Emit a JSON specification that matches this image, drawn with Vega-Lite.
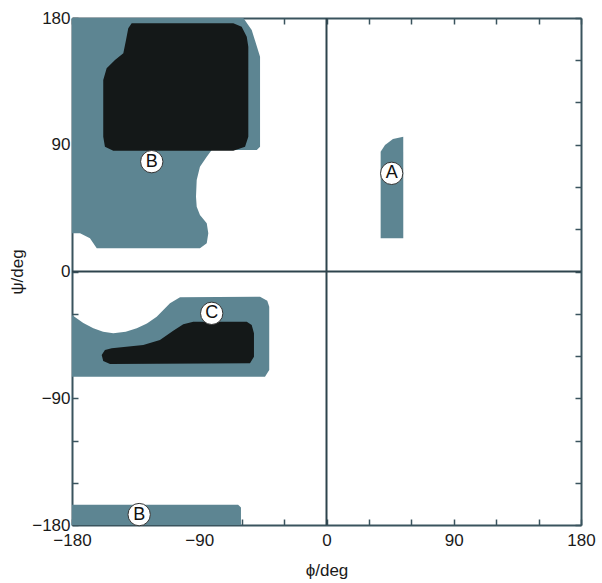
{
  "$schema": "https://vega.github.io/schema/vega-lite/v6.json",
  "width": 509,
  "height": 507,
  "autosize": "none",
  "padding": {"left": 72, "top": 18, "right": 21, "bottom": 58},
  "background": "white",
  "config": {
    "view": {"stroke": null},
    "axis": {
      "grid": false,
      "domainColor": "#3a545e",
      "domainWidth": 2,
      "tickColor": "#3a545e",
      "tickWidth": 1.5,
      "tickSize": -6,
      "labelFont": "Liberation Sans",
      "labelFontSize": 17,
      "labelColor": "#1a1a1a",
      "labelFlush": false,
      "labelPadding": 8,
      "titleFont": "Liberation Sans",
      "titleFontSize": 17,
      "titleFontWeight": "normal",
      "titleColor": "#1a1a1a",
      "zindex": 1
    }
  },
  "datasets": {
    "poly": [
      {"shape": "LB1", "kind": "light", "i": 0, "phi": -180, "psi": 180},
      {"shape": "LB1", "kind": "light", "i": 1, "phi": -58.8, "psi": 180},
      {"shape": "LB1", "kind": "light", "i": 2, "phi": -52.9, "psi": 171.5},
      {"shape": "LB1", "kind": "light", "i": 3, "phi": -47.0, "psi": 152.5},
      {"shape": "LB1", "kind": "light", "i": 4, "phi": -47.0, "psi": 88.6},
      {"shape": "LB1", "kind": "light", "i": 5, "phi": -49.3, "psi": 86.3},
      {"shape": "LB1", "kind": "light", "i": 6, "phi": -81.2, "psi": 86.3},
      {"shape": "LB1", "kind": "light", "i": 7, "phi": -84.7, "psi": 81.5},
      {"shape": "LB1", "kind": "light", "i": 8, "phi": -89.5, "psi": 74.4},
      {"shape": "LB1", "kind": "light", "i": 9, "phi": -91.8, "psi": 65.0},
      {"shape": "LB1", "kind": "light", "i": 10, "phi": -92.3, "psi": 53.1},
      {"shape": "LB1", "kind": "light", "i": 11, "phi": -91.8, "psi": 46.0},
      {"shape": "LB1", "kind": "light", "i": 12, "phi": -89.5, "psi": 40.1},
      {"shape": "LB1", "kind": "light", "i": 13, "phi": -84.7, "psi": 34.3},
      {"shape": "LB1", "kind": "light", "i": 14, "phi": -83.6, "psi": 27.1},
      {"shape": "LB1", "kind": "light", "i": 15, "phi": -84.7, "psi": 20.0},
      {"shape": "LB1", "kind": "light", "i": 16, "phi": -89.5, "psi": 16.5},
      {"shape": "LB1", "kind": "light", "i": 17, "phi": -162.5, "psi": 16.5},
      {"shape": "LB1", "kind": "light", "i": 18, "phi": -167.3, "psi": 23.6},
      {"shape": "LB1", "kind": "light", "i": 19, "phi": -174.3, "psi": 27.1},
      {"shape": "LB1", "kind": "light", "i": 20, "phi": -180, "psi": 27.1},

      {"shape": "LC", "kind": "light", "i": 0, "phi": -180, "psi": -30.9},
      {"shape": "LC", "kind": "light", "i": 1, "phi": -172, "psi": -36.5},
      {"shape": "LC", "kind": "light", "i": 2, "phi": -164.9, "psi": -40.3},
      {"shape": "LC", "kind": "light", "i": 3, "phi": -158, "psi": -42.8},
      {"shape": "LC", "kind": "light", "i": 4, "phi": -150.8, "psi": -43.9},
      {"shape": "LC", "kind": "light", "i": 5, "phi": -142, "psi": -42.8},
      {"shape": "LC", "kind": "light", "i": 6, "phi": -134.2, "psi": -40.3},
      {"shape": "LC", "kind": "light", "i": 7, "phi": -127, "psi": -37},
      {"shape": "LC", "kind": "light", "i": 8, "phi": -120.1, "psi": -32.1},
      {"shape": "LC", "kind": "light", "i": 9, "phi": -110.7, "psi": -22.6},
      {"shape": "LC", "kind": "light", "i": 10, "phi": -103.6, "psi": -18.3},
      {"shape": "LC", "kind": "light", "i": 11, "phi": -47.0, "psi": -17.9},
      {"shape": "LC", "kind": "light", "i": 12, "phi": -41.9, "psi": -20.7},
      {"shape": "LC", "kind": "light", "i": 13, "phi": -40.5, "psi": -25.0},
      {"shape": "LC", "kind": "light", "i": 14, "phi": -40.5, "psi": -69.9},
      {"shape": "LC", "kind": "light", "i": 15, "phi": -43.5, "psi": -74.7},
      {"shape": "LC", "kind": "light", "i": 16, "phi": -180, "psi": -74.7},

      {"shape": "LA", "kind": "light", "i": 0, "phi": 38.3, "psi": 23.6},
      {"shape": "LA", "kind": "light", "i": 1, "phi": 38.3, "psi": 85.1},
      {"shape": "LA", "kind": "light", "i": 2, "phi": 41.4, "psi": 89.8},
      {"shape": "LA", "kind": "light", "i": 3, "phi": 47.0, "psi": 94.1},
      {"shape": "LA", "kind": "light", "i": 4, "phi": 54.3, "psi": 95.7},
      {"shape": "LA", "kind": "light", "i": 5, "phi": 54.3, "psi": 23.6},

      {"shape": "LB2", "kind": "light", "i": 0, "phi": -180, "psi": -180},
      {"shape": "LB2", "kind": "light", "i": 1, "phi": -180, "psi": -165.6},
      {"shape": "LB2", "kind": "light", "i": 2, "phi": -62.5, "psi": -165.6},
      {"shape": "LB2", "kind": "light", "i": 3, "phi": -60.5, "psi": -167.5},
      {"shape": "LB2", "kind": "light", "i": 4, "phi": -60.5, "psi": -180},

      {"shape": "DB", "kind": "dark", "i": 0, "phi": -137.8, "psi": 176.2},
      {"shape": "DB", "kind": "dark", "i": 1, "phi": -65.9, "psi": 176.2},
      {"shape": "DB", "kind": "dark", "i": 2, "phi": -60.0, "psi": 173.8},
      {"shape": "DB", "kind": "dark", "i": 3, "phi": -56.4, "psi": 166.7},
      {"shape": "DB", "kind": "dark", "i": 4, "phi": -55.3, "psi": 159.6},
      {"shape": "DB", "kind": "dark", "i": 5, "phi": -55.3, "psi": 95.7},
      {"shape": "DB", "kind": "dark", "i": 6, "phi": -57.6, "psi": 88.6},
      {"shape": "DB", "kind": "dark", "i": 7, "phi": -65.9, "psi": 85.8},
      {"shape": "DB", "kind": "dark", "i": 8, "phi": -150.8, "psi": 85.8},
      {"shape": "DB", "kind": "dark", "i": 9, "phi": -156.7, "psi": 88.6},
      {"shape": "DB", "kind": "dark", "i": 10, "phi": -157.9, "psi": 95.7},
      {"shape": "DB", "kind": "dark", "i": 11, "phi": -157.9, "psi": 136.0},
      {"shape": "DB", "kind": "dark", "i": 12, "phi": -155.5, "psi": 144.3},
      {"shape": "DB", "kind": "dark", "i": 13, "phi": -149.6, "psi": 150.2},
      {"shape": "DB", "kind": "dark", "i": 14, "phi": -143.7, "psi": 154.9},
      {"shape": "DB", "kind": "dark", "i": 15, "phi": -141.8, "psi": 164.4},
      {"shape": "DB", "kind": "dark", "i": 16, "phi": -140.2, "psi": 172.7},

      {"shape": "DC", "kind": "dark", "i": 0, "phi": -94.2, "psi": -35.6},
      {"shape": "DC", "kind": "dark", "i": 1, "phi": -56.4, "psi": -35.6},
      {"shape": "DC", "kind": "dark", "i": 2, "phi": -52.9, "psi": -38.0},
      {"shape": "DC", "kind": "dark", "i": 3, "phi": -51.3, "psi": -43.9},
      {"shape": "DC", "kind": "dark", "i": 4, "phi": -51.3, "psi": -60.5},
      {"shape": "DC", "kind": "dark", "i": 5, "phi": -54.1, "psi": -65.2},
      {"shape": "DC", "kind": "dark", "i": 6, "phi": -153.1, "psi": -65.7},
      {"shape": "DC", "kind": "dark", "i": 7, "phi": -157.9, "psi": -63.5},
      {"shape": "DC", "kind": "dark", "i": 8, "phi": -159.0, "psi": -59.3},
      {"shape": "DC", "kind": "dark", "i": 9, "phi": -156.7, "psi": -55.7},
      {"shape": "DC", "kind": "dark", "i": 10, "phi": -151.9, "psi": -54.5},
      {"shape": "DC", "kind": "dark", "i": 11, "phi": -129.6, "psi": -52.2},
      {"shape": "DC", "kind": "dark", "i": 12, "phi": -117.8, "psi": -48.6},
      {"shape": "DC", "kind": "dark", "i": 13, "phi": -108.4, "psi": -42.0},
      {"shape": "DC", "kind": "dark", "i": 14, "phi": -101.3, "psi": -37.5}
    ],
    "labels": [
      {"name": "B", "phi": -123.6, "psi": 78.0},
      {"name": "A", "phi": 46.1, "psi": 69.7},
      {"name": "C", "phi": -81.2, "psi": -29.7},
      {"name": "B", "phi": -132.5, "psi": -172.6}
    ],
    "zero": [{"v": 0}]
  },
  "resolve": {"axis": {"x": "independent", "y": "independent"}},
  "layer": [
    {
      "data": {"name": "poly"},
      "transform": [{"filter": "datum.kind === 'light'"}],
      "mark": {"type": "line", "filled": true, "interpolate": "linear-closed", "color": "#5d8592", "strokeWidth": 0},
      "encoding": {
        "x": {"field": "phi", "type": "quantitative", "scale": {"domain": [-180, 180], "nice": false},
              "axis": {"orient": "bottom", "values": [-180,-150,-120,-90,-60,-30,0,30,60,90,120,150,180],
                       "labelExpr": "datum.value % 90 === 0 ? datum.label : ''", "title": "ϕ/deg", "labelPadding": 13, "titlePadding": 14}},
        "y": {"field": "psi", "type": "quantitative", "scale": {"domain": [-180, 180], "nice": false},
              "axis": {"orient": "left", "values": [-180,-150,-120,-90,-60,-30,0,30,60,90,120,150,180],
                       "labelExpr": "datum.value % 90 === 0 ? datum.label : ''", "title": "ψ/deg", "titlePadding": 5}},
        "detail": {"field": "shape"},
        "order": {"field": "i", "type": "quantitative"}
      }
    },
    {
      "data": {"name": "poly"},
      "transform": [{"filter": "datum.kind === 'dark'"}],
      "mark": {"type": "line", "filled": true, "interpolate": "linear-closed", "color": "#141818", "strokeWidth": 0},
      "encoding": {
        "x": {"field": "phi", "type": "quantitative",
              "axis": {"orient": "top", "values": [-180,-150,-120,-90,-60,-30,0,30,60,90,120,150,180], "labels": false, "title": null}},
        "y": {"field": "psi", "type": "quantitative",
              "axis": {"orient": "right", "values": [-180,-150,-120,-90,-60,-30,0,30,60,90,120,150,180], "labels": false, "title": null}},
        "detail": {"field": "shape"},
        "order": {"field": "i", "type": "quantitative"}
      }
    },
    {
      "data": {"name": "zero"},
      "mark": {"type": "rule", "color": "#2e444d", "strokeWidth": 2},
      "encoding": {"x": {"field": "v", "type": "quantitative", "axis": null}}
    },
    {
      "data": {"name": "zero"},
      "mark": {"type": "rule", "color": "#2e444d", "strokeWidth": 2},
      "encoding": {"y": {"field": "v", "type": "quantitative", "axis": null}}
    },
    {
      "data": {"name": "labels"},
      "mark": {"type": "point", "shape": "circle", "filled": true, "fill": "white", "stroke": "#333333", "strokeWidth": 1, "size": 500, "opacity": 1},
      "encoding": {
        "x": {"field": "phi", "type": "quantitative", "axis": null},
        "y": {"field": "psi", "type": "quantitative", "axis": null}
      }
    },
    {
      "data": {"name": "labels"},
      "mark": {"type": "text", "font": "Liberation Sans", "fontSize": 18, "color": "#111111", "baseline": "middle", "align": "center"},
      "encoding": {
        "x": {"field": "phi", "type": "quantitative", "axis": null},
        "y": {"field": "psi", "type": "quantitative", "axis": null},
        "text": {"field": "name"}
      }
    }
  ]
}
